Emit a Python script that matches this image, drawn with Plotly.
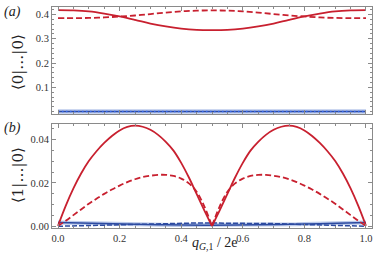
import plotly.graph_objects as go

# ---------------- data ----------------
q_a = [0.0, 0.05, 0.1, 0.15, 0.2, 0.25, 0.3, 0.35, 0.4, 0.45, 0.5,
       0.55, 0.6, 0.65, 0.7, 0.75, 0.8, 0.85, 0.9, 0.95, 1.0]
a_red_solid = [0.418, 0.417, 0.413, 0.404, 0.392, 0.378, 0.363, 0.351, 0.342, 0.337, 0.336,
               0.337, 0.342, 0.351, 0.363, 0.378, 0.392, 0.404, 0.413, 0.417, 0.418]
a_red_dash = [0.385, 0.385, 0.386, 0.388, 0.392, 0.396, 0.402, 0.408, 0.413, 0.416, 0.417,
              0.416, 0.413, 0.408, 0.402, 0.396, 0.392, 0.388, 0.386, 0.385, 0.385]
a_blue_solid = [0.0005] * 21
a_blue_dash = [0.0005] * 21

q_b = [0.0, 0.025, 0.05, 0.075, 0.1, 0.125, 0.15, 0.175, 0.2, 0.225, 0.25,
       0.275, 0.3, 0.325, 0.35, 0.375, 0.4, 0.425, 0.45, 0.475, 0.5,
       0.525, 0.55, 0.575, 0.6, 0.625, 0.65, 0.675, 0.7, 0.725, 0.75,
       0.775, 0.8, 0.825, 0.85, 0.875, 0.9, 0.925, 0.95, 0.975, 1.0]
b_red_solid = [0.0004, 0.0095, 0.0175, 0.0243, 0.0300, 0.0345, 0.0383, 0.0415, 0.0440, 0.0456, 0.0462,
               0.0457, 0.0443, 0.0420, 0.0388, 0.0348, 0.0292, 0.0225, 0.0150, 0.0075, 0.0003,
               0.0075, 0.0150, 0.0225, 0.0292, 0.0348, 0.0388, 0.0420, 0.0443, 0.0457, 0.0462,
               0.0456, 0.0440, 0.0415, 0.0383, 0.0345, 0.0300, 0.0243, 0.0175, 0.0095, 0.0004]
b_red_dash = [0.0003, 0.0027, 0.0053, 0.0079, 0.0105, 0.0128, 0.0150, 0.0170, 0.0188, 0.0204, 0.0217,
              0.0227, 0.0233, 0.0237, 0.0237, 0.0232, 0.0220, 0.0198, 0.0160, 0.0093, 0.0003,
              0.0093, 0.0160, 0.0198, 0.0220, 0.0232, 0.0237, 0.0237, 0.0233, 0.0227, 0.0217,
              0.0204, 0.0188, 0.0170, 0.0150, 0.0128, 0.0105, 0.0079, 0.0053, 0.0027, 0.0003]
b_blue_solid = [0.0019, 0.0018, 0.0018, 0.0017, 0.0016, 0.0015, 0.0014, 0.0013, 0.0012, 0.0011, 0.0011,
                0.0010, 0.0010, 0.0009, 0.0009, 0.0008, 0.0008, 0.0008, 0.0007, 0.0007, 0.0007,
                0.0007, 0.0007, 0.0008, 0.0008, 0.0008, 0.0009, 0.0009, 0.0010, 0.0010, 0.0011,
                0.0011, 0.0012, 0.0013, 0.0014, 0.0015, 0.0016, 0.0017, 0.0018, 0.0018, 0.0019]
b_blue_dash = [0.0002, 0.0003, 0.0004, 0.0005, 0.0006, 0.0007, 0.0008, 0.0009, 0.0010, 0.0011, 0.0012,
               0.0013, 0.0014, 0.0015, 0.0015, 0.0016, 0.0016, 0.0016, 0.0017, 0.0017, 0.0017,
               0.0017, 0.0017, 0.0016, 0.0016, 0.0016, 0.0015, 0.0015, 0.0014, 0.0013, 0.0012,
               0.0011, 0.0010, 0.0009, 0.0008, 0.0007, 0.0006, 0.0005, 0.0004, 0.0003, 0.0002]

x_ticks = [0.0, 0.2, 0.4, 0.6, 0.8, 1.0]
x_ticklabels = ["0.0", "0.2", "0.4", "0.6", "0.8", "1.0"]
ya_ticks = [0.1, 0.2, 0.3, 0.4]
ya_ticklabels = ["0.1", "0.2", "0.3", "0.4"]
yb_ticks = [0.0, 0.02, 0.04]
yb_ticklabels = ["0.00", "0.02", "0.04"]

RED = "#c8202f"
BLUE = "#2c4aa0"
BLUE_LIGHT = "rgba(120,150,215,0.5)"
BLUE_DOT = "#3a6cf0"

fig = go.Figure()

# ---------- panel (a) ----------
fig.add_trace(go.Scatter(x=q_a, y=a_blue_solid, xaxis="x2", yaxis="y2", mode="lines",
                         line=dict(color=BLUE_LIGHT, width=4.5)))
fig.add_trace(go.Scatter(x=q_a, y=a_blue_solid, xaxis="x2", yaxis="y2", mode="lines",
                         line=dict(color=BLUE, width=1.5)))
fig.add_trace(go.Scatter(x=q_a, y=a_blue_dash, xaxis="x2", yaxis="y2", mode="lines",
                         line=dict(color=BLUE_DOT, width=1.5, dash="1.5px,2.5px")))
fig.add_trace(go.Scatter(x=q_a, y=a_red_solid, xaxis="x2", yaxis="y2", mode="lines",
                         line=dict(color=RED, width=1.8, shape="spline")))
fig.add_trace(go.Scatter(x=q_a, y=a_red_dash, xaxis="x2", yaxis="y2", mode="lines",
                         line=dict(color=RED, width=1.8, shape="spline", dash="6px,3px")))

# ---------- panel (b) ----------
fig.add_trace(go.Scatter(x=q_b, y=b_blue_solid, mode="lines",
                         line=dict(color=BLUE_LIGHT, width=4)))
fig.add_trace(go.Scatter(x=q_b, y=b_blue_solid, mode="lines",
                         line=dict(color=BLUE, width=1.5)))
fig.add_trace(go.Scatter(x=q_b, y=b_blue_dash, mode="lines",
                         line=dict(color=BLUE, width=1.5, dash="5px,2px")))

half = q_b.index(0.5)
for lo, hi in [(0, half + 1), (half, len(q_b))]:
    fig.add_trace(go.Scatter(x=q_b[lo:hi], y=b_red_solid[lo:hi], mode="lines",
                             line=dict(color=RED, width=1.8, shape="spline")))
    fig.add_trace(go.Scatter(x=q_b[lo:hi], y=b_red_dash[lo:hi], mode="lines",
                             line=dict(color=RED, width=1.8, shape="spline", dash="6px,3px")))

FRAME = "#8a8a8a"
tickfont = dict(family="Liberation Serif", size=10.5, color="#333")
common = dict(showline=True, linecolor=FRAME, linewidth=1, mirror="allticks",
              ticks="inside", tickcolor=FRAME, ticklen=4, tickwidth=1,
              showgrid=False, zeroline=False, tickfont=tickfont,
              ticklabeloverflow="allow")

xrange = [-0.0195, 1.0195]
fig.update_layout(
    width=374, height=255,
    margin=dict(l=52, r=2, t=7, b=27),
    paper_bgcolor="white", plot_bgcolor="white",
    showlegend=False,
    xaxis=dict(domain=[0, 1], range=xrange, anchor="y",
               tickvals=x_ticks, ticktext=x_ticklabels,
               minor=dict(ticks="inside", ticklen=2, tickcolor=FRAME, dtick=0.05, tick0=0),
               **common),
    yaxis=dict(domain=[0, 0.471], range=[-0.0006, 0.047], anchor="x",
               tickvals=yb_ticks, ticktext=yb_ticklabels,
               minor=dict(ticks="inside", ticklen=2, tickcolor=FRAME, dtick=0.005, tick0=0),
               **common),
    xaxis2=dict(domain=[0, 1], range=xrange, anchor="y2", matches="x",
                tickvals=x_ticks, showticklabels=False,
                minor=dict(ticks="inside", ticklen=2, tickcolor=FRAME, dtick=0.05, tick0=0),
                **common),
    yaxis2=dict(domain=[0.516, 1], range=[-0.0095, 0.431], anchor="x2",
                tickvals=ya_ticks, ticktext=ya_ticklabels,
                minor=dict(ticks="inside", ticklen=2, tickcolor=FRAME, dtick=0.02, tick0=0),
                **common),
)

lblfont = dict(family="Liberation Serif", size=14, color="#222")
fig.add_annotation(text="<i>(a)</i>", xref="paper", yref="paper", x=-0.125, y=0.977,
                   showarrow=False, font=lblfont, xanchor="center", yanchor="middle")
fig.add_annotation(text="<i>(b)</i>", xref="paper", yref="paper", x=-0.125, y=0.452,
                   showarrow=False, font=lblfont, xanchor="center", yanchor="middle")
fig.add_annotation(text="⟨0|…|0⟩", xref="paper", yref="paper", x=-0.106, y=0.751,
                   showarrow=False, textangle=-90, font=dict(family="DejaVu Serif", size=15, color="#222"),
                   xanchor="center", yanchor="middle")
fig.add_annotation(text="⟨1|…|0⟩", xref="paper", yref="paper", x=-0.106, y=0.24,
                   showarrow=False, textangle=-90, font=dict(family="DejaVu Serif", size=15, color="#222"),
                   xanchor="center", yanchor="middle")
fig.add_annotation(text="<i>q</i><sub><i>G</i>,1</sub> / 2e", xref="paper", yref="paper",
                   x=0.509, y=-0.117, showarrow=False,
                   font=dict(family="Liberation Serif", size=14, color="#222"),
                   xanchor="center", yanchor="bottom")

fig.write_html("out.html", config={"displayModeBar": False, "staticPlot": True},
               post_script="document.body.style.margin='0';document.body.style.overflow='hidden';")
